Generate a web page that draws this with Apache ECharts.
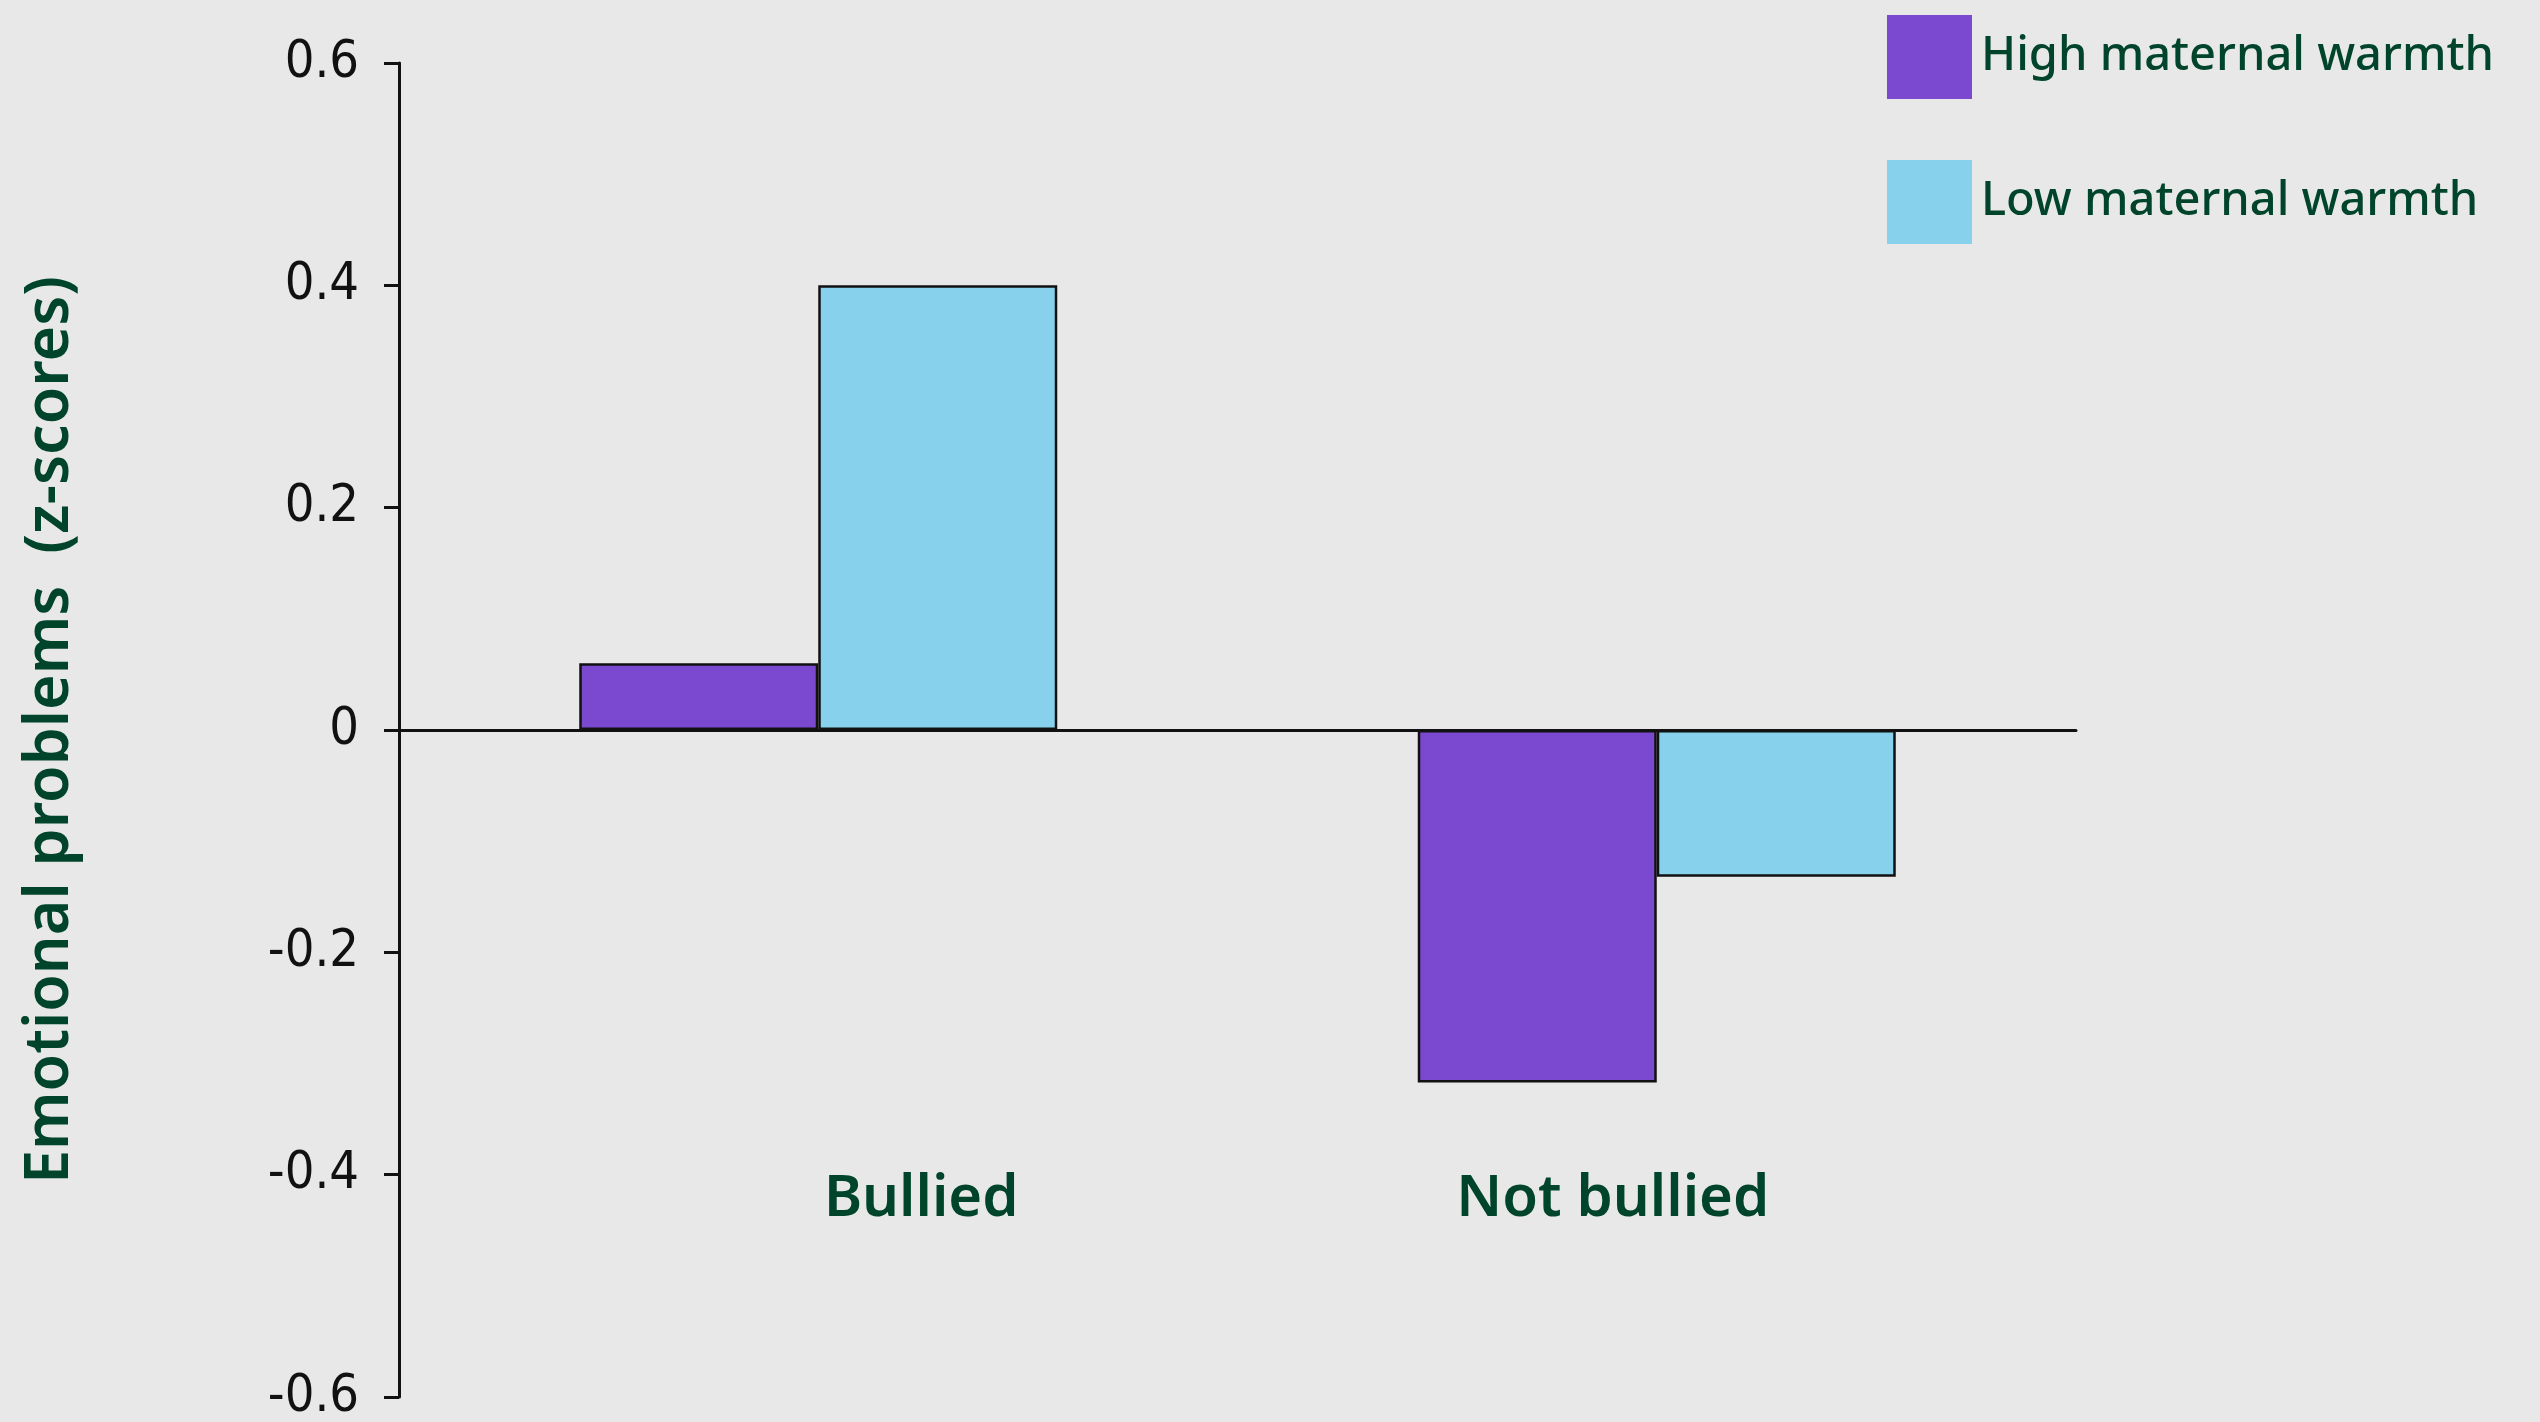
<!DOCTYPE html>
<html>
<head>
<meta charset="utf-8">
<script src="https://cdn.jsdelivr.net/npm/echarts@6/dist/echarts.min.js"></script>
<style>
html,body{margin:0;padding:0;background:#e8e8e8;}
#chart{width:2540px;height:1422px;}
</style>
</head>
<body>
<div id="chart"></div>
<script>
const categories = ['Bullied', 'Not bullied'];
const seriesNames = ['High maternal warmth', 'Low maternal warmth'];
const highWarmth = [0.06, -0.317];
const lowWarmth = [0.40, -0.132];
const yTicks = [-0.6, -0.4, -0.2, 0, 0.2, 0.4, 0.6];
const yTickLabels = ['-0.6', '-0.4', '-0.2', '0', '0.2', '0.4', '0.6'];
const axisTitle = 'Emotional problems  (z-scores)';

const green = '#00452b';
const font = '"Noto Sans", Lato, sans-serif';
const chart = echarts.init(document.getElementById('chart'), null, {renderer: 'canvas'});
chart.setOption({
  backgroundColor: '#e8e8e8',
  animation: false,
  grid: {left: 399, right: 464, top: 63, bottom: 25, containLabel: false, outerBoundsMode: 'none'},
  legend: {
    orient: 'vertical',
    left: 1882, top: 10,
    itemWidth: 85, itemHeight: 84, itemGap: 61,
    icon: 'rect',
    itemStyle: {borderWidth: 0},
    textStyle: {color: green, fontSize: 47, fontWeight: 500, fontFamily: font, padding: [0, 0, 0, 4]},
    data: seriesNames
  },
  xAxis: {
    type: 'category',
    data: categories,
    axisLine: {onZero: true, lineStyle: {color: '#111', width: 3}},
    axisTick: {show: false},
    axisLabel: {
      margin: -228,
      formatter: function (v) { return v === 'Bullied' ? '{a|' + v + '}' : '{b|' + v + '}'; },
      rich: {
        a: {color: green, fontSize: 58, fontWeight: 600, fontFamily: font, lineHeight: 60, padding: [0, 0, 0, 206]},
        b: {color: green, fontSize: 58, fontWeight: 600, fontFamily: font, lineHeight: 60, padding: [0, 88, 0, 0]}
      }
    }
  },
  yAxis: {
    type: 'value',
    min: -0.6, max: 0.6, interval: 0.2,
    splitLine: {show: false},
    axisLine: {show: true, lineStyle: {color: '#111', width: 3}},
    axisTick: {show: true, length: 15, lineStyle: {color: '#111', width: 3}},
    axisLabel: {
      margin: 40,
      color: '#111',
      fontSize: 52,
      fontFamily: '"Liberation Sans Narrow", "DejaVu Sans Condensed", sans-serif',
      formatter: function (v) {
        const i = yTicks.findIndex(t => Math.abs(t - v) < 1e-9);
        return i >= 0 ? yTickLabels[i] : '';
      }
    },
    name: axisTitle,
    nameLocation: 'middle',
    nameRotate: 90,
    nameGap: 318,
    nameTextStyle: {color: green, fontSize: 61, fontWeight: 600, fontFamily: font}
  },
  series: [
    {
      name: seriesNames[0], type: 'bar', data: highWarmth,
      barWidth: 239, barGap: '0%',
      itemStyle: {color: '#7b48d0', borderColor: '#111', borderWidth: 2.5}
    },
    {
      name: seriesNames[1], type: 'bar', data: lowWarmth,
      barWidth: 239, barGap: '0%',
      itemStyle: {color: '#87d1ec', borderColor: '#111', borderWidth: 2.5}
    }
  ]
});
</script>
</body>
</html>
